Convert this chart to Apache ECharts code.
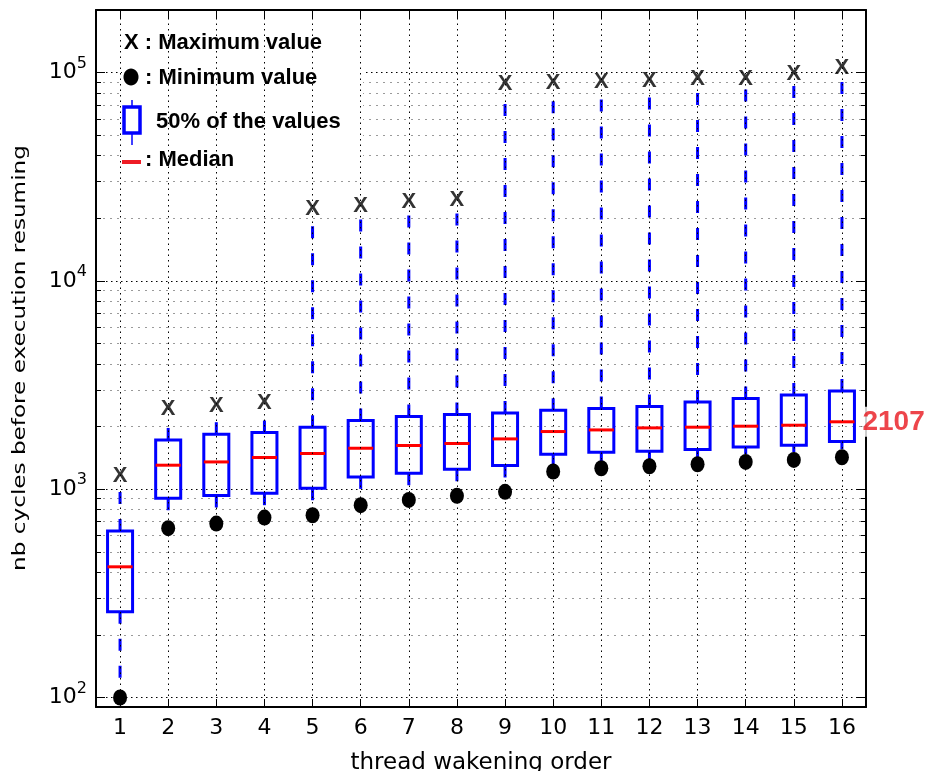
<!DOCTYPE html>
<html>
<head>
<meta charset="utf-8">
<script src="https://cdn.jsdelivr.net/npm/echarts@6/dist/echarts.min.js"></script>
<style>
  html, body { margin: 0; padding: 0; background: #fff; }
  #chart { width: 929px; height: 771px; }
</style>
</head>
<body>
<div id="chart"></div>
<script>
const threads = ['1', '2', '3', '4', '5', '6', '7', '8', '9', '10', '11', '12', '13', '14', '15', '16']
const maxValues = [1160, 2440, 2510, 2610, 22260, 22920, 23950, 24400, 88000, 88960, 90650, 91250, 92970, 93700, 98240, 105800]
const whiskerHigh = [1000, 1978, 2128, 2169, 19780, 20900, 21680, 22090, 77300, 80270, 81700, 83240, 84830, 84830, 89650, 94740]
const q3 = [630, 1724, 1837, 1872, 1985, 2137, 2234, 2284, 2325, 2395, 2440, 2495, 2625, 2725, 2836, 2964]
const medians = [424, 1304, 1352, 1420, 1484, 1573, 1621, 1658, 1744, 1892, 1926, 1970, 1985, 2007, 2029, 2107]
const q1 = [258, 905, 933, 957, 1011, 1146, 1193, 1247, 1300, 1472, 1505, 1522, 1551, 1596, 1626, 1694]
const whiskerLow = [100, 773, 802, 832, 863, 981, 1030, 1077, 1126, 1294, 1343, 1383, 1424, 1472, 1505, 1556]
const minValues = [100, 650, 684, 731, 750, 838, 888, 929, 971, 1216, 1261, 1289, 1318, 1352, 1383, 1424]

const BLUE = '#0000ff'
const RED = '#ff0000'
const legendFont = 'bold 22px "Liberation Sans"'

function renderBox(params, api) {
  const i = api.value(0)
  const p = k => api.coord([i, api.value(k)])
  const lo = p(1), b1 = p(2), md = p(3), b3 = p(4), hi = p(5)
  const w = api.size([1, 0])[0] * 0.52
  const x = lo[0]
  const whisker = { stroke: BLUE, lineWidth: 3, lineDash: [12, 15] }
  return {
    type: 'group',
    children: [
      { type: 'line', shape: { x1: x, y1: b3[1], x2: x, y2: hi[1] }, style: whisker },
      { type: 'line', shape: { x1: x, y1: b1[1], x2: x, y2: lo[1] }, style: whisker },
      { type: 'rect', shape: { x: x - w / 2, y: b3[1], width: w, height: b1[1] - b3[1] },
        style: { fill: 'none', stroke: BLUE, lineWidth: 3 } },
      { type: 'line', shape: { x1: x - w / 2, y1: md[1], x2: x + w / 2, y2: md[1] },
        style: { stroke: RED, lineWidth: 3 } },
    ]
  }
}

const yBase = {
  type: 'log',
  logBase: 10,
  min: 90,
  max: 200000,
  axisLine: { show: true, lineStyle: { color: '#000', width: 2 } },
  axisTick: { show: true, inside: true, length: 9, lineStyle: { color: '#000', width: 1 } },
  minorTick: { show: true, splitNumber: 9, length: 5, lineStyle: { color: '#000', width: 1 } },
}

const xBase = {
  type: 'category',
  data: threads,
  boundaryGap: true,
  axisLine: { show: true, lineStyle: { color: '#000', width: 2 } },
  axisTick: { show: true, inside: true, alignWithLabel: true, interval: 0, length: 8, lineStyle: { color: '#000', width: 1 } },
  splitLine: { show: false },
}

const option = {
  animation: false,
  backgroundColor: '#fff',
  grid: { left: 96, right: 63, top: 10, bottom: 64, outerBoundsMode: 'none' },
  xAxis: [
    {
      ...xBase,
      position: 'bottom',
      axisLabel: { interval: 0, fontSize: 22, color: '#000', fontFamily: 'DejaVu Sans', margin: 10 },
      name: 'thread wakening order',
      nameLocation: 'middle',
      nameGap: 45,
      nameTextStyle: { fontSize: 23, color: '#000', fontFamily: 'DejaVu Sans' },
    },
    { ...xBase, position: 'top', axisLabel: { show: false } },
  ],
  yAxis: [
    {
      ...yBase,
      position: 'left',
      axisLabel: {
        margin: 9,
        showMinLabel: false,
        showMaxLabel: false,
        formatter: v => {
          const e = Math.log10(v)
          if (Math.abs(e - Math.round(e)) > 1e-6) return ''
          return '{b|10}{s|' + Math.round(e) + '}'
        },
        rich: {
          b: { fontSize: 22, lineHeight: 34, color: '#000', fontFamily: 'DejaVu Sans' },
          s: { fontSize: 16, lineHeight: 16, verticalAlign: 'top', color: '#000', fontFamily: 'DejaVu Sans' },
        },
      },
      splitLine: { show: true, lineStyle: { color: '#000', type: [1.5, 3.5], width: 1 } },
      minorSplitLine: { show: true, lineStyle: { color: '#9a9a9a', type: [2, 5], width: 1 } },
    },
    { ...yBase, position: 'right', axisLabel: { show: false }, splitLine: { show: false } },
  ],
  graphic: {
    elements: [
      { type: 'rect', z: 2, shape: { x: 122, y: 18, width: 241, height: 150 }, style: { fill: '#fff' } },
      { type: 'text', z: 5, x: 124, y: 43, style: { text: 'X : Maximum value', font: legendFont, fill: '#000', verticalAlign: 'middle' } },
      { type: 'ellipse', z: 5, shape: { cx: 131, cy: 77, rx: 7.5, ry: 8.5 }, style: { fill: '#000' } },
      { type: 'text', z: 5, x: 145, y: 78, style: { text: ': Minimum value', font: legendFont, fill: '#000', verticalAlign: 'middle' } },
      { type: 'line', z: 5, shape: { x1: 132, y1: 100, x2: 132, y2: 145 }, style: { stroke: BLUE, lineWidth: 1.5 } },
      { type: 'rect', z: 5, shape: { x: 124, y: 107, width: 16, height: 26 }, style: { fill: '#fff', stroke: BLUE, lineWidth: 3.5 } },
      { type: 'text', z: 5, x: 156, y: 122, style: { text: '50% of the values', font: legendFont, fill: '#000', verticalAlign: 'middle' } },
      { type: 'line', z: 5, shape: { x1: 122, y1: 162, x2: 141, y2: 162 }, style: { stroke: '#ee1c25', lineWidth: 4 } },
      { type: 'text', z: 5, x: 145, y: 160, style: { text: ': Median', font: legendFont, fill: '#000', verticalAlign: 'middle' } },
      {
        type: 'text', z: 5, x: 21, y: 358, rotation: Math.PI / 2, scaleX: 1.36,
        style: { text: 'nb cycles before execution resuming', font: '17px "DejaVu Sans"', fill: '#000', align: 'center', verticalAlign: 'middle' }
      },
    ]
  },
  series: [
    {
      // vertical dotted grid at each thread
      type: 'line',
      z: 1,
      data: [],
      markLine: {
        silent: true,
        symbol: 'none',
        label: { show: false },
        lineStyle: { color: '#000', type: [1.5, 4], width: 1 },
        data: threads.map(t => ({ xAxis: t })),
      },
    },
    {
      type: 'custom',
      z: 3,
      renderItem: renderBox,
      encode: { x: 0, y: [1, 2, 3, 4, 5] },
      data: threads.map((t, i) => [i, whiskerLow[i], q1[i], medians[i], q3[i], whiskerHigh[i]]),
    },
    {
      type: 'scatter',
      z: 4,
      symbol: 'circle',
      symbolSize: [14, 16],
      itemStyle: { color: '#000', opacity: 1 },
      data: threads.map((t, i) => [i, minValues[i]]),
    },
    {
      type: 'scatter',
      z: 4,
      symbolSize: 1,
      itemStyle: { color: 'rgba(0,0,0,0)' },
      label: {
        show: true, position: 'inside', formatter: 'X',
        fontSize: 22, fontWeight: 'bold', fontFamily: 'Liberation Sans', color: '#000',
        textBorderWidth: 0
      },
      data: threads.map((t, i) => [i, maxValues[i]]),
    },
    {
      type: 'scatter',
      z: 5,
      symbolSize: 1,
      itemStyle: { color: 'rgba(0,0,0,0)' },
      label: {
        show: true, position: 'right', distance: 19,
        formatter: p => String(p.value[1]),
        fontSize: 28, fontWeight: 'bold', fontFamily: 'Liberation Sans', color: '#e8161e',
        backgroundColor: '#fff', padding: [2, 1, 0, 1]
      },
      data: [[threads.length - 1, medians[medians.length - 1]]],
    },
  ]
}

const chart = echarts.init(document.getElementById('chart'))
chart.setOption(option)
</script>
</body>
</html>
